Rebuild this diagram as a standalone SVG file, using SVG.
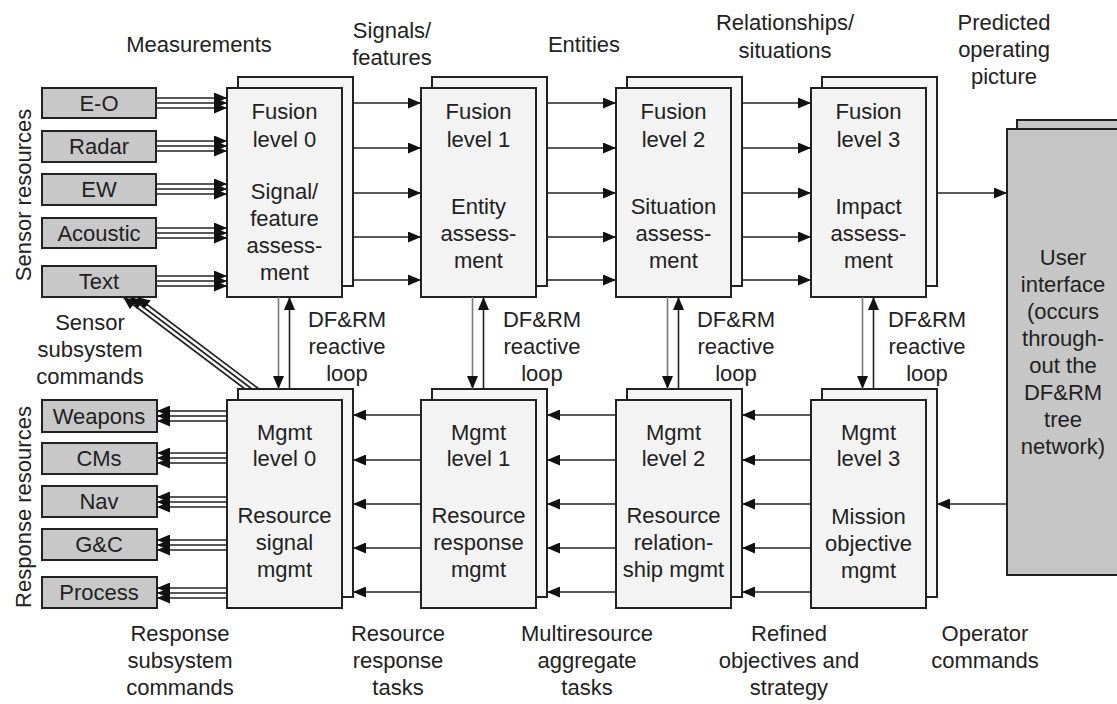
<svg xmlns="http://www.w3.org/2000/svg" width="1117" height="704" viewBox="0 0 1117 704">
  <style>
    .t { font-family: "Liberation Sans", Arial, sans-serif; font-size: 22px; fill: #222; text-anchor: middle; }
    .box { fill: #f3f3f3; stroke: #222; stroke-width: 2; }
    .back { fill: #f6f6f6; stroke: #222; stroke-width: 2; }
    .res { fill: #c8c8c8; stroke: #222; stroke-width: 2; }
    .ui { fill: #c6c6c6; stroke: #222; stroke-width: 2; }
    .ln { stroke: #222; stroke-width: 1.6; fill: none; marker-end: url(#ah); }
    .lg { stroke: #7a7a7a; stroke-width: 1.6; fill: none; marker-end: url(#ah); }
  </style>
  <defs>
    <marker id="ah" markerUnits="userSpaceOnUse" markerWidth="13" markerHeight="11" refX="13" refY="5.5" orient="auto">
      <path d="M0,0 L13,5.5 L0,11 z" fill="#111"/>
    </marker>
  </defs>
  <rect width="1117" height="704" fill="#ffffff"/>

  <!-- flow labels -->
  <g id="labels">
    <text class="t" x="199" y="52">Measurements</text>
    <text class="t" x="392" y="38">Signals/</text>
    <text class="t" x="392" y="65">features</text>
    <text class="t" x="584" y="52">Entities</text>
    <text class="t" x="785" y="30">Relationships/</text>
    <text class="t" x="785" y="58">situations</text>
    <text class="t" x="1004" y="30">Predicted</text>
    <text class="t" x="1004" y="57">operating</text>
    <text class="t" x="1004" y="84">picture</text>
    <text class="t" transform="translate(31,195) rotate(-90)">Sensor resources</text>
    <text class="t" transform="translate(31,507) rotate(-90)">Response resources</text>
    <text class="t" x="90" y="330">Sensor</text>
    <text class="t" x="90" y="357">subsystem</text>
    <text class="t" x="90" y="384">commands</text>
    <text class="t" x="180" y="641">Response</text>
    <text class="t" x="180" y="668">subsystem</text>
    <text class="t" x="180" y="695">commands</text>
    <text class="t" x="398" y="641">Resource</text>
    <text class="t" x="398" y="668">response</text>
    <text class="t" x="398" y="695">tasks</text>
    <text class="t" x="587" y="641">Multiresource</text>
    <text class="t" x="587" y="668">aggregate</text>
    <text class="t" x="587" y="695">tasks</text>
    <text class="t" x="789" y="641">Refined</text>
    <text class="t" x="789" y="668">objectives and</text>
    <text class="t" x="789" y="695">strategy</text>
    <text class="t" x="985" y="641">Operator</text>
    <text class="t" x="985" y="668">commands</text>
    <text class="t" x="347" y="327">DF&amp;RM</text>
    <text class="t" x="347" y="354">reactive</text>
    <text class="t" x="347" y="381">loop</text>
    <text class="t" x="542" y="327">DF&amp;RM</text>
    <text class="t" x="542" y="354">reactive</text>
    <text class="t" x="542" y="381">loop</text>
    <text class="t" x="736" y="327">DF&amp;RM</text>
    <text class="t" x="736" y="354">reactive</text>
    <text class="t" x="736" y="381">loop</text>
    <text class="t" x="927" y="327">DF&amp;RM</text>
    <text class="t" x="927" y="354">reactive</text>
    <text class="t" x="927" y="381">loop</text>
  </g>

  <!-- sensor resources -->
  <g id="sensor-eo"><rect class="res" x="42" y="88" width="114" height="30"/><text class="t" x="99" y="111">E-O</text></g>
  <g id="sensor-radar"><rect class="res" x="42" y="131" width="114" height="31"/><text class="t" x="99" y="154">Radar</text></g>
  <g id="sensor-ew"><rect class="res" x="42" y="174" width="114" height="31"/><text class="t" x="99" y="197">EW</text></g>
  <g id="sensor-acoustic"><rect class="res" x="42" y="218" width="114" height="30"/><text class="t" x="99" y="241">Acoustic</text></g>
  <g id="sensor-text"><rect class="res" x="42" y="266" width="114" height="31"/><text class="t" x="99" y="289">Text</text></g>

  <!-- response resources -->
  <g id="resp-weapons"><rect class="res" x="42" y="400" width="115" height="32"/><text class="t" x="99" y="424">Weapons</text></g>
  <g id="resp-cms"><rect class="res" x="42" y="443" width="115" height="31"/><text class="t" x="99" y="466">CMs</text></g>
  <g id="resp-nav"><rect class="res" x="42" y="486" width="115" height="31"/><text class="t" x="99" y="509">Nav</text></g>
  <g id="resp-gc"><rect class="res" x="42" y="529" width="115" height="31"/><text class="t" x="99" y="552">G&amp;C</text></g>
  <g id="resp-process"><rect class="res" x="42" y="577" width="115" height="31"/><text class="t" x="99" y="600">Process</text></g>

  <!-- fusion levels -->
  <g id="fusion-0">
    <rect class="back" x="238" y="77" width="115" height="209"/>
    <rect class="box" x="227" y="88" width="115" height="209"/>
    <text class="t" x="284.5" y="119">Fusion</text>
    <text class="t" x="284.5" y="147">level 0</text>
    <text class="t" x="284.5" y="199">Signal/</text>
    <text class="t" x="284.5" y="226">feature</text>
    <text class="t" x="284.5" y="253">assess-</text>
    <text class="t" x="284.5" y="280">ment</text>
  </g>
  <g id="fusion-1">
    <rect class="back" x="432" y="77" width="115" height="209"/>
    <rect class="box" x="421" y="88" width="115" height="209"/>
    <text class="t" x="478.5" y="119">Fusion</text>
    <text class="t" x="478.5" y="147">level 1</text>
    <text class="t" x="478.5" y="214">Entity</text>
    <text class="t" x="478.5" y="241">assess-</text>
    <text class="t" x="478.5" y="268">ment</text>
  </g>
  <g id="fusion-2">
    <rect class="back" x="627" y="77" width="115" height="209"/>
    <rect class="box" x="616" y="88" width="115" height="209"/>
    <text class="t" x="673.5" y="119">Fusion</text>
    <text class="t" x="673.5" y="147">level 2</text>
    <text class="t" x="673.5" y="214">Situation</text>
    <text class="t" x="673.5" y="241">assess-</text>
    <text class="t" x="673.5" y="268">ment</text>
  </g>
  <g id="fusion-3">
    <rect class="back" x="822" y="77" width="115" height="209"/>
    <rect class="box" x="811" y="88" width="115" height="209"/>
    <text class="t" x="868.5" y="119">Fusion</text>
    <text class="t" x="868.5" y="147">level 3</text>
    <text class="t" x="868.5" y="214">Impact</text>
    <text class="t" x="868.5" y="241">assess-</text>
    <text class="t" x="868.5" y="268">ment</text>
  </g>

  <!-- management levels -->
  <g id="mgmt-0">
    <rect class="back" x="238" y="389" width="115" height="208"/>
    <rect class="box" x="227" y="400" width="115" height="208"/>
    <text class="t" x="284.5" y="440">Mgmt</text>
    <text class="t" x="284.5" y="466">level 0</text>
    <text class="t" x="284.5" y="523">Resource</text>
    <text class="t" x="284.5" y="550">signal</text>
    <text class="t" x="284.5" y="577">mgmt</text>
  </g>
  <g id="mgmt-1">
    <rect class="back" x="432" y="389" width="115" height="208"/>
    <rect class="box" x="421" y="400" width="115" height="208"/>
    <text class="t" x="478.5" y="440">Mgmt</text>
    <text class="t" x="478.5" y="466">level 1</text>
    <text class="t" x="478.5" y="523">Resource</text>
    <text class="t" x="478.5" y="550">response</text>
    <text class="t" x="478.5" y="577">mgmt</text>
  </g>
  <g id="mgmt-2">
    <rect class="back" x="627" y="389" width="115" height="208"/>
    <rect class="box" x="616" y="400" width="115" height="208"/>
    <text class="t" x="673.5" y="440">Mgmt</text>
    <text class="t" x="673.5" y="466">level 2</text>
    <text class="t" x="673.5" y="523">Resource</text>
    <text class="t" x="673.5" y="550">relation-</text>
    <text class="t" x="673.5" y="577">ship mgmt</text>
  </g>
  <g id="mgmt-3">
    <rect class="back" x="822" y="389" width="115" height="208"/>
    <rect class="box" x="811" y="400" width="115" height="208"/>
    <text class="t" x="868.5" y="440">Mgmt</text>
    <text class="t" x="868.5" y="466">level 3</text>
    <text class="t" x="868.5" y="524">Mission</text>
    <text class="t" x="868.5" y="551">objective</text>
    <text class="t" x="868.5" y="578">mgmt</text>
  </g>

  <!-- user interface -->
  <g id="user-interface">
    <rect class="ui" x="1017" y="120" width="130" height="446"/>
    <rect class="ui" x="1007" y="129" width="130" height="446"/>
    <text class="t" x="1063" y="265">User</text>
    <text class="t" x="1063" y="292">interface</text>
    <text class="t" x="1063" y="319">(occurs</text>
    <text class="t" x="1063" y="346">through-</text>
    <text class="t" x="1063" y="373">out the</text>
    <text class="t" x="1063" y="400">DF&amp;RM</text>
    <text class="t" x="1063" y="427">tree</text>
    <text class="t" x="1063" y="454">network)</text>
  </g>

  <g id="connectors">
    <!-- sensors to fusion level 0 (triple lines) -->
    <path class="ln" d="M156,98 H227"/><path class="ln" d="M156,103 H227"/><path class="ln" d="M156,108 H227"/>
    <path class="ln" d="M156,141 H227"/><path class="ln" d="M156,146 H227"/><path class="ln" d="M156,151 H227"/>
    <path class="ln" d="M156,184 H227"/><path class="ln" d="M156,189 H227"/><path class="ln" d="M156,194 H227"/>
    <path class="ln" d="M156,228 H227"/><path class="ln" d="M156,233 H227"/><path class="ln" d="M156,238 H227"/>
    <path class="ln" d="M156,276 H227"/><path class="ln" d="M156,281 H227"/><path class="ln" d="M156,286 H227"/>

    <!-- fusion chain -->
    <path class="ln" d="M353,103 H421"/><path class="ln" d="M353,148 H421"/><path class="ln" d="M353,193 H421"/><path class="ln" d="M353,237 H421"/><path class="ln" d="M353,280 H421"/>
    <path class="ln" d="M547,103 H616"/><path class="ln" d="M547,148 H616"/><path class="ln" d="M547,193 H616"/><path class="ln" d="M547,237 H616"/><path class="ln" d="M547,280 H616"/>
    <path class="ln" d="M742,103 H811"/><path class="ln" d="M742,148 H811"/><path class="ln" d="M742,193 H811"/><path class="ln" d="M742,237 H811"/><path class="ln" d="M742,280 H811"/>
    <path class="ln" d="M937,193 H1007"/>

    <!-- management chain -->
    <path class="ln" d="M1007,504 H937"/>
    <path class="ln" d="M811,415 H742"/><path class="ln" d="M811,460 H742"/><path class="ln" d="M811,504 H742"/><path class="ln" d="M811,548 H742"/><path class="ln" d="M811,592 H742"/>
    <path class="ln" d="M616,415 H547"/><path class="ln" d="M616,460 H547"/><path class="ln" d="M616,504 H547"/><path class="ln" d="M616,548 H547"/><path class="ln" d="M616,592 H547"/>
    <path class="ln" d="M421,415 H353"/><path class="ln" d="M421,460 H353"/><path class="ln" d="M421,504 H353"/><path class="ln" d="M421,548 H353"/><path class="ln" d="M421,592 H353"/>

    <!-- management level 0 to response resources (triple lines) -->
    <path class="ln" d="M227,411 H157"/><path class="ln" d="M227,416 H157"/><path class="ln" d="M227,421 H157"/>
    <path class="ln" d="M227,453 H157"/><path class="ln" d="M227,458 H157"/><path class="ln" d="M227,463 H157"/>
    <path class="ln" d="M227,497 H157"/><path class="ln" d="M227,502 H157"/><path class="ln" d="M227,507 H157"/>
    <path class="ln" d="M227,540 H157"/><path class="ln" d="M227,545 H157"/><path class="ln" d="M227,550 H157"/>
    <path class="ln" d="M227,588 H157"/><path class="ln" d="M227,593 H157"/><path class="ln" d="M227,598 H157"/>

    <!-- sensor subsystem commands -->
    <path class="ln" d="M245,389 L123,297"/><path class="ln" d="M252,389 L130,297"/><path class="ln" d="M259,389 L137,297"/>

    <!-- DF&RM reactive loops -->
    <path class="lg" d="M278.5,297 V389"/><path class="ln" d="M289.5,389 V297"/>
    <path class="lg" d="M472.5,297 V389"/><path class="ln" d="M483.5,389 V297"/>
    <path class="lg" d="M667.5,297 V389"/><path class="ln" d="M678.5,389 V297"/>
    <path class="lg" d="M862.5,297 V389"/><path class="ln" d="M873.5,389 V297"/>
  </g>
</svg>
